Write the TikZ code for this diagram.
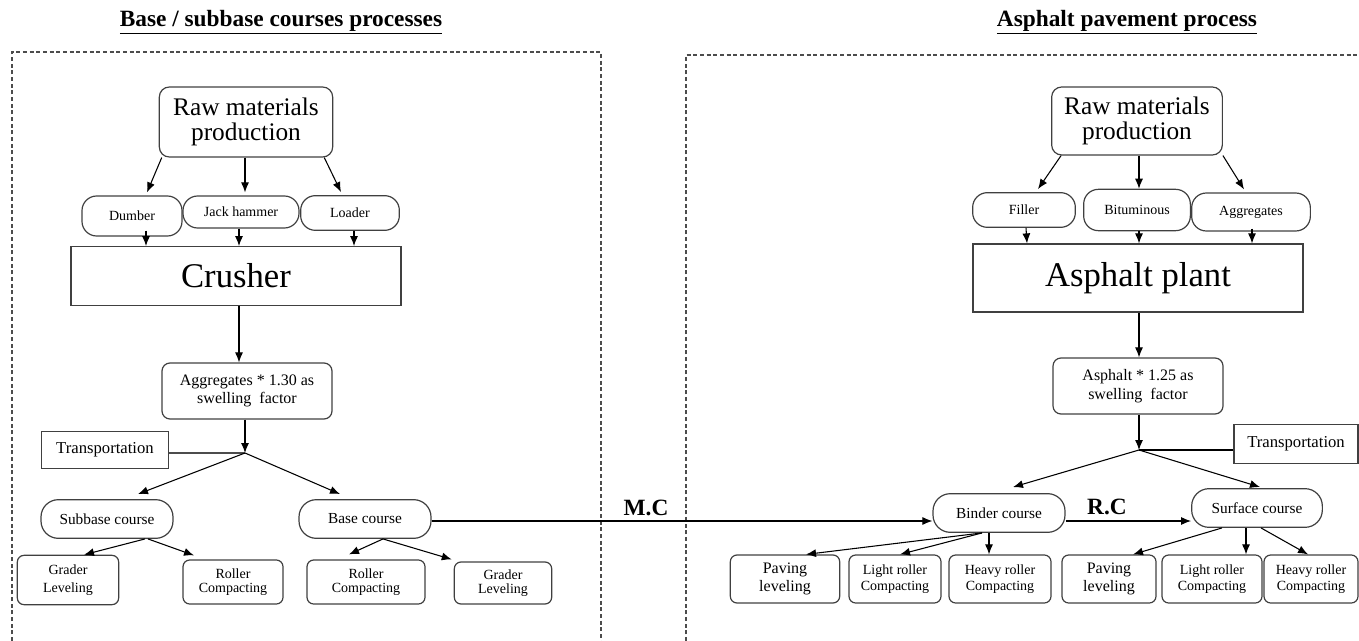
\documentclass[tikz,border=0pt]{standalone}
\usepackage{fontspec}
\setmainfont{Liberation Serif}
\usetikzlibrary{calc,arrows.meta}

\begin{document}
\begin{tikzpicture}[x=0.75pt,y=-0.75pt,
  box/.style={draw=black!75,line width=0.9pt,align=center,inner sep=1pt},
  rbox/.style={box,rounded corners=7.5pt},
  pill/.style={box,rounded corners=11pt,font=\fontsize{10.5}{12}\selectfont},
  course/.style={box,rounded corners=13pt,minimum width=99pt,minimum height=29pt,font=\fontsize{11.5}{13}\selectfont},
  leaf/.style={box,rounded corners=5pt,minimum height=36pt,font=\fontsize{10.5}{12}\selectfont},
  arr/.style={-{Latex[length=7.5pt,width=6pt]},line width=0.8pt},
  sep/.style={draw=black!70,dash pattern=on 3pt off 2pt,line width=0.8pt},
  ttl/.style={font=\fontsize{17.5}{20}\selectfont\bfseries}]

  \useasboundingbox (0,0) rectangle (1359,641);

  % titles and frames
  \node[ttl] (ttlL) at (281,22) {\underline{Base / subbase courses processes}};
  \node[ttl] (ttlR) at (1127,22) {\underline{Asphalt pavement process}};
  \draw[sep] (12,641) -- (12,52) -- (601,52) -- (601,641);
  \draw[sep] (686,641) -- (686,55) -- (1359,55);

  % base / subbase
  \node[rbox,minimum width=130pt,minimum height=52.5pt,font=\fontsize{19}{19}\selectfont] (rawL) at (246,122) {Raw materials\\production};
  \node[pill,minimum width=75pt,minimum height=30pt] (dumber) at (132,216) {Dumber};
  \node[pill,minimum width=87pt,minimum height=24pt] (jack) at (241,212) {Jack hammer};
  \node[pill,minimum width=74pt,minimum height=26pt] (loader) at (350,213) {Loader};
  \node[box,minimum width=247.5pt,minimum height=44pt,font=\fontsize{26}{28}\selectfont] (crusher) at (236,276) {Crusher};
  \node[rbox,rounded corners=6pt,minimum width=127.5pt,minimum height=42pt,font=\fontsize{12}{13.5}\selectfont] (aggL) at (247,391) {Aggregates * 1.30 as\\swelling\ \ factor};
  \node[box,minimum width=95pt,minimum height=28pt,font=\fontsize{12.5}{14}\selectfont] (transL) at (105,450) {Transportation};
  \coordinate (jl) at (245,453);
  \node[course] (sub) at (107,519) {Subbase course};
  \node[course] (base) at (365,519) {Base course};
  \node[leaf,minimum width=76pt,minimum height=37pt,font=\fontsize{10.5}{13.5}\selectfont] (graderA) at (68,580) {Grader\\Leveling};
  \node[leaf,minimum width=75pt,minimum height=33pt,font=\fontsize{10.5}{10.5}\selectfont] (rollerA) at (233,582) {Roller\\Compacting};
  \node[leaf,minimum width=88.5pt,minimum height=33pt,font=\fontsize{10.5}{10.5}\selectfont] (rollerB) at (366,582) {Roller\\Compacting};
  \node[leaf,minimum width=73pt,minimum height=31.5pt,font=\fontsize{10.5}{10.5}\selectfont] (graderB) at (503,583) {Grader\\Leveling};

  \draw[arr] ($(rawL.south west)+(3,0)$) -- ($(dumber.north)+(15,-3)$);
  \draw[arr] ($(rawL.south)+(-1,0)$) -- ($(jack.north)+(4,-3)$);
  \draw[arr] ($(rawL.south east)+(-9,0)$) -- ($(loader.north)+(-9,-3)$);
  \draw[arr] ($(dumber.south)+(14,-6)$) -- ($(crusher.north)+(-90,0)$);
  \draw[arr] ($(jack.south)+(-2,0)$) -- ($(crusher.north)+(3,0)$);
  \draw[arr] ($(loader.south)+(4,0)$) -- ($(crusher.north)+(118,0)$);
  \draw[arr] ($(crusher.south)+(3,0)$) -- ($(aggL.north)+(-8,0)$);
  \draw[arr] ($(aggL.south)+(-2,0)$) -- (jl);
  \draw[draw=black!70,line width=0.8pt] (transL.east |- jl) -- (jl);
  \draw[arr] (jl) -- ($(sub.north)+(31,-5)$);
  \draw[arr] (jl) -- ($(base.north)+(-25,-5)$);
  \draw[arr] ($(sub.south)+(38,0)$) -- ($(graderA.north)+(16,0)$);
  \draw[arr] ($(sub.south)+(41,0)$) -- ($(rollerA.north)+(-39,-4)$);
  \draw[arr] ($(base.south)+(18,0)$) -- ($(rollerB.north)+(-17,-5)$);
  \draw[arr] ($(base.south)+(18,0)$) -- ($(graderB.north west)+(-2,-2)$);

  % asphalt
  \node[rbox,minimum width=128pt,minimum height=51pt,font=\fontsize{19}{19}\selectfont] (rawR) at (1137,121) {Raw materials\\production};
  \node[pill,minimum width=77pt,minimum height=26pt] (filler) at (1024,210) {Filler};
  \node[pill,minimum width=80pt,minimum height=31pt] (bitum) at (1137,210) {Bituminous};
  \node[pill,minimum width=89pt,minimum height=28.5pt] (aggR) at (1251,212) {Aggregates};
  \node[box,minimum width=247.5pt,minimum height=51pt,font=\fontsize{26}{28}\selectfont] (plant) at (1138,278) {Asphalt plant};
  \node[rbox,rounded corners=6pt,minimum width=127.5pt,minimum height=42pt,font=\fontsize{12}{14}\selectfont] (asph) at (1138,386) {Asphalt * 1.25 as\\swelling\ \ factor};
  \node[box,minimum width=93pt,minimum height=29pt,font=\fontsize{12.5}{14}\selectfont] (transR) at (1296,444) {Transportation};
  \coordinate (jr) at (1139,450);
  \node[course] (binder) at (999,513) {Binder course};
  \node[course,minimum width=98pt] (surface) at (1257,508) {Surface course};
  \node[leaf,minimum width=82pt,font=\fontsize{12}{13}\selectfont] (pavingA) at (785,579) {Paving\\leveling};
  \node[leaf,minimum width=69pt] (lightA) at (895,579) {Light roller\\Compacting};
  \node[leaf,minimum width=76.5pt] (heavyA) at (1000,579) {Heavy roller\\Compacting};
  \node[leaf,minimum width=70.5pt,font=\fontsize{12}{13}\selectfont] (pavingB) at (1109,579) {Paving\\leveling};
  \node[leaf,minimum width=75pt] (lightB) at (1212,579) {Light roller\\Compacting};
  \node[leaf,minimum width=70.5pt] (heavyB) at (1311,579) {Heavy roller\\Compacting};

  \draw[arr] ($(rawR.south west)+(10,0)$) -- ($(filler.north)+(14,-3)$);
  \draw[arr] ($(rawR.south)+(2,0)$) -- ($(bitum.north)+(2,0)$);
  \draw[arr] (rawR.south east) -- ($(aggR.north)+(-7,-3)$);
  \draw[arr] ($(filler.south)+(2,0)$) -- ($(plant.north)+(-111,0)$);
  \draw[arr] ($(bitum.south)+(2,0)$) -- ($(plant.north)+(1,0)$);
  \draw[arr] ($(aggR.south)+(1,-3)$) -- ($(plant.north)+(114,0)$);
  \draw[arr] ($(plant.south)+(1,0)$) -- ($(asph.north)+(1,0)$);
  \draw[arr] ($(asph.south)+(1,0)$) -- (jr);
  \draw[line width=0.8pt] (transR.west |- jr) -- (jr);
  \draw[arr] (jr) -- ($(binder.north)+(14,-6)$);
  \draw[arr] (jr) -- ($(surface.north)+(3,-1)$);
  \draw[arr] ($(binder.south)+(-17,0)$) -- ($(pavingA.north)+(21,0)$);
  \draw[arr] ($(binder.south)+(-17,0)$) -- ($(lightA.north)+(5,0)$);
  \draw[arr] ($(binder.south)+(-10,0)$) -- ($(heavyA.north)+(-11,0)$);
  \draw[arr] ($(surface.south)+(-35,0)$) -- ($(pavingB.north)+(24,0)$);
  \draw[arr] ($(surface.south)+(-11,0)$) -- ($(lightB.north)+(34,0)$);
  \draw[arr] ($(surface.south)+(4,0)$) -- ($(heavyB.north)+(-3,0)$);

  % link between the two processes
  \draw[arr] ($(base.east)+(0,2)$) -- ($(binder.west)+(0,8)$);
  \draw[arr] ($(binder.east)+(0,8)$) -- ($(surface.west)+(0,13)$);
  \node[ttl] (mc) at (646,508) {M.C};
  \node[ttl] (rc) at (1107,507) {R.C};

\end{tikzpicture}
\end{document}
